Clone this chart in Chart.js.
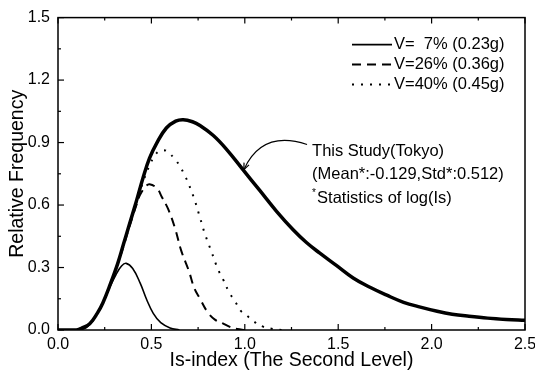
<!DOCTYPE html>
<html>
<head>
<meta charset="utf-8">
<script src="https://cdn.jsdelivr.net/npm/chart.js@4.4.1/dist/chart.umd.min.js"></script>
<style>
  body { margin: 0; background: #fff; }
</style>
</head>
<body>
<canvas id="freqChart" width="535" height="372"></canvas>
<script>
// values
const studyX = [0.00, 0.10, 0.13, 0.17, 0.21, 0.24, 0.28, 0.32, 0.35, 0.38, 0.42, 0.455, 0.49, 0.53, 0.58, 0.63, 0.67, 0.72, 0.76, 0.83, 0.90, 0.99, 1.08, 1.17, 1.26, 1.33, 1.40, 1.49, 1.58, 1.67, 1.76, 1.85, 1.94, 2.03, 2.11, 2.20, 2.30, 2.40, 2.50];
const studyY = [0.00, 0.00, 0.01, 0.03, 0.08, 0.13, 0.22, 0.32, 0.41, 0.50, 0.62, 0.73, 0.825, 0.90, 0.97, 1.003, 1.01, 1.0, 0.982, 0.935, 0.87, 0.77, 0.67, 0.57, 0.48, 0.42, 0.37, 0.31, 0.25, 0.205, 0.167, 0.133, 0.11, 0.09, 0.076, 0.066, 0.057, 0.051, 0.047];

const v7X = [0.10, 0.15, 0.21, 0.24, 0.28, 0.31, 0.34, 0.365, 0.40, 0.44, 0.475, 0.51, 0.55, 0.60, 0.65];
const v7Y = [0.00, 0.01, 0.08, 0.13, 0.21, 0.265, 0.307, 0.32, 0.295, 0.225, 0.145, 0.08, 0.035, 0.01, 0.00];

const v26X = [0.10, 0.17, 0.21, 0.24, 0.28, 0.32, 0.35, 0.38, 0.42, 0.44, 0.47, 0.49, 0.53, 0.555, 0.59, 0.626, 0.66, 0.70, 0.73, 0.76, 0.80, 0.84, 0.88, 0.92, 0.96, 1.00];
const v26Y = [0.00, 0.03, 0.08, 0.13, 0.22, 0.32, 0.40, 0.49, 0.60, 0.65, 0.69, 0.70, 0.68, 0.64, 0.58, 0.49, 0.38, 0.285, 0.20, 0.15, 0.087, 0.05, 0.033, 0.015, 0.005, 0.00];

const v40X = [0.10, 0.17, 0.21, 0.24, 0.28, 0.32, 0.35, 0.38, 0.42, 0.455, 0.49, 0.52, 0.546, 0.58, 0.626, 0.65, 0.68, 0.70, 0.733, 0.76, 0.787, 0.82, 0.857, 0.88, 0.92, 0.95, 0.975, 1.01, 1.045, 1.10, 1.15, 1.20];
const v40Y = [0.00, 0.03, 0.08, 0.13, 0.22, 0.32, 0.41, 0.50, 0.615, 0.71, 0.79, 0.84, 0.86, 0.86, 0.82, 0.79, 0.74, 0.70, 0.62, 0.54, 0.46, 0.38, 0.29, 0.25, 0.175, 0.135, 0.095, 0.07, 0.043, 0.015, 0.005, 0.00];

const legendLabels = ["V=  7% (0.23g)", "V=26% (0.36g)", "V=40% (0.45g)"];
const noteLines = ["This Study(Tokyo)", "(Mean*:-0.129,Std*:0.512)", "Statistics of log(Is)"];
const xTitle = "Is-index (The Second Level)";
const yTitle = "Relative Frequency";

const FONT = "'Liberation Sans', Arial, sans-serif";

const toPoints = (xs, ys) => xs.map((x, i) => ({ x: x, y: ys[i] }));

// frame, inward ticks, legend and the note with its arrow
const extras = {
  id: "extras",
  afterDraw(chart) {
    const ctx = chart.ctx;
    const area = chart.chartArea;
    const xs = chart.scales.x;
    const ys = chart.scales.y;
    ctx.save();
    ctx.strokeStyle = "#000";
    ctx.fillStyle = "#000";

    ctx.lineWidth = 1.5;
    ctx.strokeRect(area.left, area.top, area.right - area.left, area.bottom - area.top);

    ctx.lineWidth = 1.2;
    for (let i = 0; i <= 10; i++) {
      const px = xs.getPixelForValue(i * 0.25);
      const len = i % 2 === 0 ? 6 : 3;
      ctx.beginPath();
      ctx.moveTo(px, area.bottom); ctx.lineTo(px, area.bottom - len);
      ctx.moveTo(px, area.top); ctx.lineTo(px, area.top + len);
      ctx.stroke();
    }
    for (let i = 0; i <= 10; i++) {
      const py = ys.getPixelForValue(i * 0.15);
      const len = i % 2 === 0 ? 6 : 3;
      ctx.beginPath();
      ctx.moveTo(area.left, py); ctx.lineTo(area.left + len, py);
      ctx.stroke();
    }

    // legend, top right
    ctx.font = "16.5px " + FONT;
    ctx.textBaseline = "middle";
    ctx.textAlign = "left";
    const sets = [chart.data.datasets[1], chart.data.datasets[2], chart.data.datasets[3]];
    sets.forEach((ds, i) => {
      const y = area.top + 27 + i * 20;
      const x0 = area.right - 173;
      ctx.lineWidth = ds.borderWidth;
      ctx.setLineDash(ds.borderDash || []);
      ctx.beginPath();
      ctx.moveTo(x0, y); ctx.lineTo(x0 + 40, y);
      ctx.stroke();
      ctx.setLineDash([]);
      ctx.fillText(legendLabels[i], x0 + 42, y);
    });

    // note beside the study curve
    const nx = xs.getPixelForValue(1.36);
    const ny = ys.getPixelForValue(0.857);
    ctx.fillText(noteLines[0], nx, ny);
    ctx.fillText(noteLines[1], nx, ny + 23);
    ctx.fillText(noteLines[2], nx + 5, ny + 47);
    ctx.font = "10px " + FONT;
    ctx.fillText("*", nx, ny + 42);

    // curved arrow pointing at the curve
    const sx = nx - 5, sy = ny - 7;
    const ex = xs.getPixelForValue(0.995), ey = ys.getPixelForValue(0.77);
    const cx = sx - 45, cy = sy - 15;
    ctx.lineWidth = 1.2;
    ctx.beginPath();
    ctx.moveTo(sx, sy);
    ctx.quadraticCurveTo(cx, cy, ex, ey);
    ctx.stroke();
    const ang = Math.atan2(ey - cy, ex - cx);
    ctx.beginPath();
    ctx.moveTo(ex - 7 * Math.cos(ang - 0.4), ey - 7 * Math.sin(ang - 0.4));
    ctx.lineTo(ex, ey);
    ctx.lineTo(ex - 7 * Math.cos(ang + 0.4), ey - 7 * Math.sin(ang + 0.4));
    ctx.stroke();

    ctx.restore();
  }
};

const ctx = document.getElementById("freqChart").getContext("2d");

new Chart(ctx, {
  type: "line",
  data: {
    datasets: [
      { label: "This Study", data: toPoints(studyX, studyY), borderColor: "#000", borderWidth: 3.5 },
      { label: legendLabels[0], data: toPoints(v7X, v7Y), borderColor: "#000", borderWidth: 1.6 },
      { label: legendLabels[1], data: toPoints(v26X, v26Y), borderColor: "#000", borderWidth: 2, borderDash: [9, 6] },
      { label: legendLabels[2], data: toPoints(v40X, v40Y), borderColor: "#000", borderWidth: 2, borderDash: [2, 7] }
    ]
  },
  options: {
    responsive: false,
    animation: false,
    devicePixelRatio: 1,
    layout: { padding: { top: 15, right: 10, left: 0, bottom: 0 } },
    elements: {
      point: { radius: 0 },
      line: { tension: 0.4, fill: false }
    },
    plugins: {
      legend: { display: false },
      tooltip: { enabled: false }
    },
    scales: {
      x: {
        type: "linear",
        min: 0,
        max: 2.5,
        afterFit: s => { s.height = 42; s.paddingLeft = 0; s.paddingRight = 0; },
        grid: { display: false, drawTicks: false },
        border: { display: false },
        ticks: {
          stepSize: 0.5,
          padding: 5,
          color: "#000",
          font: { family: FONT, size: 16 },
          callback: v => v.toFixed(1)
        },
        title: {
          display: true,
          text: xTitle,
          color: "#000",
          font: { family: FONT, size: 19.5 },
          padding: { top: 0, bottom: 0 }
        }
      },
      y: {
        min: 0,
        max: 1.5,
        afterFit: s => { s.width = 58; },
        grid: { display: false, drawTicks: false },
        border: { display: false },
        ticks: {
          stepSize: 0.3,
          padding: 8,
          color: "#000",
          font: { family: FONT, size: 16 },
          callback: v => v.toFixed(1)
        },
        title: {
          display: true,
          text: yTitle,
          color: "#000",
          font: { family: FONT, size: 19.5 },
          padding: { top: 6, bottom: 0 }
        }
      }
    }
  },
  plugins: [extras]
});
</script>
</body>
</html>
